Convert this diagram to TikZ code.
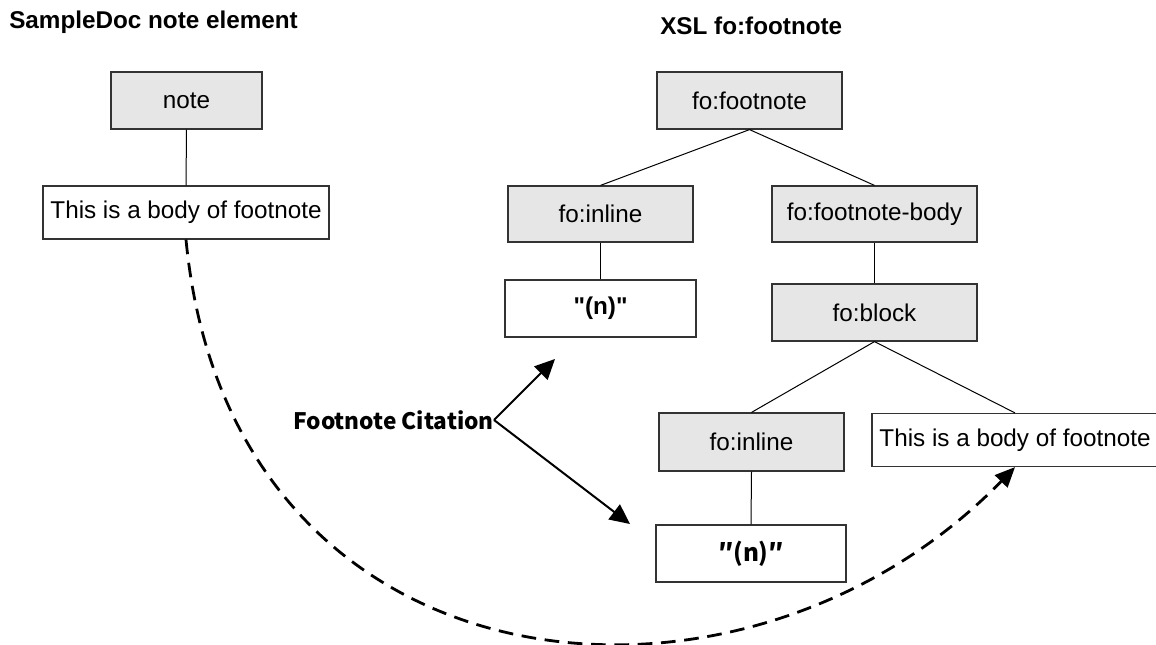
\documentclass[tikz,border=0pt]{standalone}
\usepackage{fontspec}
\setmainfont{Liberation Sans}
\newfontfamily\rawsans{Liberation Sans}[Ligatures=TeXOff]
\newfontfamily\jpfont{Noto Sans CJK JP}
\usetikzlibrary{arrows.meta}
\definecolor{boxgray}{HTML}{E6E6E6}
\definecolor{boxline}{HTML}{333333}

\begin{document}
\begin{tikzpicture}[x=0.75pt,y=-0.75pt,
  every node/.style={font=\fontsize{18.2}{22}\selectfont, inner sep=0pt},
  elem/.style={draw=boxline, line width=0.9pt, fill=boxgray, minimum height=42.75pt},
  txtbox/.style={draw=boxline, line width=0.9pt, fill=white, minimum height=42.75pt},
  bodybox/.style={draw=boxline, line width=0.9pt, fill=white, minimum width=214.5pt, minimum height=39.75pt},
  title/.style={anchor=base west, font=\fontsize{18.2}{22}\selectfont\bfseries},
  treeline/.style={draw=black, line width=0.75pt},
  citearrow/.style={line width=1.5pt, -{Triangle[length=15pt,width=14pt]}},
  linkarrow/.style={line width=2.1pt, dash pattern=on 11pt off 6.5pt, -{Triangle[length=15pt,width=13pt]}}
]
\useasboundingbox (0,0) rectangle (1156,645);

% left: source document structure
\node[title] (srctitle) at (9,29) {SampleDoc note element};
\node[elem, minimum width=113.25pt] (note) at (186.5,100.5) {note};
\node[bodybox] (srcbody) at (186,212.5) {This is a body of footnote};
\draw[treeline] (note.south) -- (srcbody.north);

% right: XSL-FO result tree
\node[title] (fotitle) at (660,35) {XSL fo:footnote};
\node[elem, minimum width=138.75pt] (footnote) at (749.5,100.5) {fo:footnote};
\node[elem, minimum width=138.75pt, minimum height=42pt] (inlineA) at (600.5,214) {fo:inline};
\node[elem, minimum width=153.75pt, minimum height=42pt] (fnbody) at (874.5,214) {fo:footnote-body};
\node[txtbox, minimum width=143.25pt] (citeA) at (600.5,308.5) {\rawsans\bfseries "(n)"};
\node[elem, minimum width=153.75pt] (block) at (874.5,312.5) {fo:block};
\node[elem, minimum width=138.75pt, minimum height=43.5pt] (inlineB) at (751.5,442) {fo:inline};
\node[bodybox] (dstbody) at (1015,440) {This is a body of footnote};
\node[txtbox, minimum width=142.5pt] (citeB) at (751,553.5) {\jpfont\bfseries ″(n)″};

\draw[treeline] (footnote.south) -- (inlineA.north);
\draw[treeline] (footnote.south) -- (fnbody.north);
\draw[treeline] (inlineA.south) -- (citeA.north);
\draw[treeline] (fnbody.south) -- (block.north);
\draw[treeline] (block.south) -- (inlineB.north);
\draw[treeline] (block.south) -- (dstbody.north);
\draw[treeline] (inlineB.south) -- (citeB.north);

% citation label with its two pointers
\node[anchor=east, font=\jpfont\fontsize{17}{20}\selectfont\bfseries] (cite) at (494,420) {Footnote Citation};
\coordinate (toA) at (555,359);
\coordinate (toB) at (630,524);
\draw[citearrow] (cite.east) -- (toA);
\draw[citearrow] (cite.east) -- (toB);

% body text carried over into the footnote body
\draw[linkarrow] (srcbody.south) .. controls (230,700) and (740,750) .. (dstbody.south);
\end{tikzpicture}
\end{document}
